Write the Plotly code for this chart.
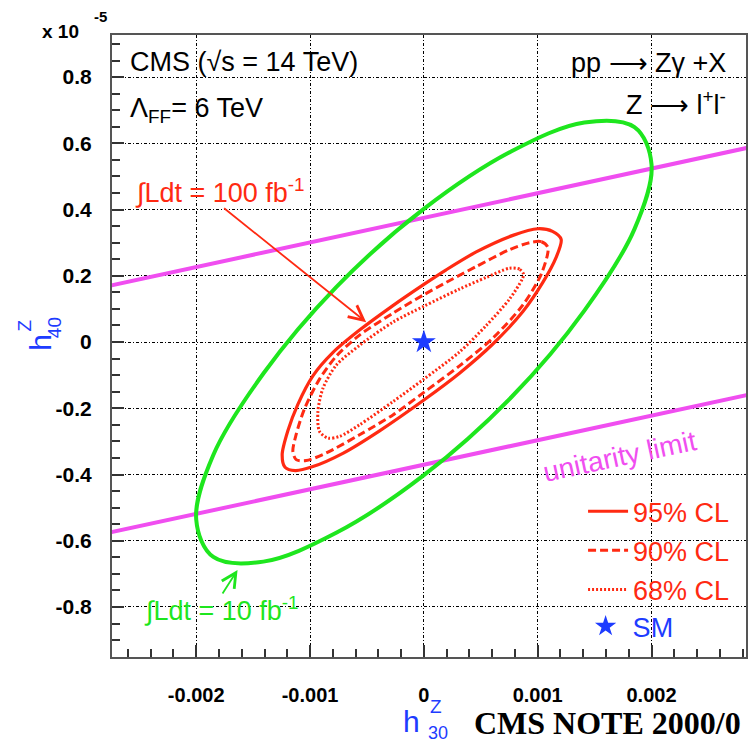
import plotly.graph_objects as go

# ---- data (h30 in raw units, h40 in units of 1e-5) ----
# 10 fb^-1 contour
c10_x = [0.00200, 0.00185, 0.00141, 0.00077, 0.0, -0.00077, -0.00141, -0.00185,
         -0.00200, -0.00185, -0.00141, -0.00077, 0.0, 0.00077, 0.00141, 0.00185, 0.00200]
c10_y = [0.536, 0.341, 0.095, -0.166, -0.402, -0.576, -0.663, -0.649,
         -0.536, -0.341, -0.095, 0.166, 0.402, 0.576, 0.663, 0.649, 0.536]

# 100 fb^-1 contours
c95_x = [0.001206, 0.00113, 0.001001, 0.000782, 0.00046, 0.000196, 0.0, -0.000272,
         -0.000565, -0.0008, -0.000975, -0.001107, -0.001195, -0.001245, -0.00122,
         -0.00113, -0.000975, -0.000712, -0.000389, 0.0, 0.000313, 0.000606, 0.00087,
         0.001045, 0.00116, 0.001206]
c95_y = [0.31, 0.334, 0.342, 0.322, 0.272, 0.218, 0.174, 0.110, 0.036, -0.032, -0.102,
         -0.188, -0.268, -0.34, -0.378, -0.388, -0.376, -0.336, -0.268, -0.175, -0.094,
         -0.006, 0.092, 0.180, 0.254, 0.31]

c90_x = [0.00109, 0.001031, 0.000928, 0.000753, 0.00046, 0.000196, 0.0, -0.000272,
         -0.000565, -0.00077, -0.000917, -0.001048, -0.001122, -0.001151, -0.001122,
         -0.001034, -0.000858, -0.000565, -0.000272, 0.0, 0.000313, 0.000606, 0.00087,
         0.001031, 0.00109]
c90_y = [0.285, 0.303, 0.300, 0.279, 0.228, 0.18, 0.143, 0.087, 0.021, -0.043, -0.112,
         -0.201, -0.279, -0.33, -0.355, -0.358, -0.335, -0.28, -0.22, -0.152, -0.072,
         0.012, 0.112, 0.205, 0.285]

c68_x = [0.000876, 0.00084, 0.000753, 0.000548, 0.000313, 0.0, -0.000272, -0.000565,
         -0.00077, -0.000887, -0.000931, -0.000917, -0.000843, -0.000741, -0.000565,
         -0.000272, 0.0, 0.000313, 0.000548, 0.000753, 0.000864, 0.000876]
c68_y = [0.205, 0.22, 0.223, 0.195, 0.16, 0.108, 0.06, -0.01, -0.07, -0.14, -0.21, -0.27,
         -0.29, -0.285, -0.25, -0.18, -0.112, -0.03, 0.05, 0.13, 0.19, 0.205]

# unitarity limits
unit_x = [-0.003, 0.003]
unit_upper = [0.152, 0.598]
unit_lower = [-0.593, -0.148]

# Standard Model point
sm_x = [0.0]
sm_y = [0.0]

x_ticks = [-0.002, -0.001, 0.0, 0.001, 0.002]
x_ticktext = ["-0.002", "-0.001", "0", "0.001", "0.002"]
y_ticks = [-0.8, -0.6, -0.4, -0.2, 0.0, 0.2, 0.4, 0.6, 0.8]
y_ticktext = ["-0.8", "-0.6", "-0.4", "-0.2", "0", "0.2", "0.4", "0.6", "0.8"]

RED = "#ff2a12"
GREEN = "#1ee61e"
MAGENTA = "#f04ef0"
BLUE = "#1e3cff"
FONT = "Liberation Sans, Arial, sans-serif"

fig = go.Figure()

fig.add_trace(go.Scatter(x=unit_x, y=unit_upper, mode="lines",
                         line=dict(color=MAGENTA, width=4), showlegend=False))
fig.add_trace(go.Scatter(x=unit_x, y=unit_lower, mode="lines",
                         line=dict(color=MAGENTA, width=4), showlegend=False))
fig.add_trace(go.Scatter(x=c10_x, y=c10_y, mode="lines",
                         line=dict(color=GREEN, width=4, shape="spline", smoothing=1),
                         showlegend=False))
fig.add_trace(go.Scatter(x=c95_x, y=c95_y, mode="lines", name="95% CL", legendgroup="a",
                         line=dict(color=RED, width=3.2, shape="spline", smoothing=0.8)))
fig.add_trace(go.Scatter(x=c90_x, y=c90_y, mode="lines", name="90% CL", legendgroup="b",
                         line=dict(color=RED, width=3, dash="8px,4px", shape="spline",
                                   smoothing=0.8)))
fig.add_trace(go.Scatter(x=c68_x, y=c68_y, mode="lines", name="68% CL", legendgroup="c",
                         line=dict(color=RED, width=3, dash="2px,2px", shape="spline",
                                   smoothing=0.8)))
fig.add_trace(go.Scatter(x=sm_x, y=sm_y, mode="markers", name="SM", legend="legend2",
                         marker=dict(symbol="star", size=18, color=BLUE)))

grid = dict(showgrid=True, gridcolor="black", gridwidth=1.3, griddash="3px,2px,1px,2px")

fig.update_xaxes(range=[-0.00274, 0.00283], tickvals=x_ticks, ticktext=x_ticktext,
                 ticks="inside", ticklen=12, tickwidth=1.5, tickcolor="#333",
                 showline=True, linecolor="#555", linewidth=2, mirror=True,
                 zeroline=False, ticklabelstandoff=19,
                 tickfont=dict(family=FONT, size=20, color="black", weight="bold"),
                 minor=dict(dtick=0.0002, tick0=0, ticks="inside", ticklen=8,
                            tickwidth=1.5, tickcolor="#333", showgrid=False),
                 **grid)
fig.update_yaxes(range=[-0.951, 0.927], tickvals=y_ticks, ticktext=y_ticktext,
                 ticks="inside", ticklen=12, tickwidth=1.5, tickcolor="#333",
                 showline=True, linecolor="#555", linewidth=2, mirror=True,
                 zeroline=False, ticklabelstandoff=14,
                 tickfont=dict(family=FONT, size=21, color="black", weight="bold"),
                 minor=dict(dtick=0.05, tick0=0, ticks="inside", ticklen=8,
                            tickwidth=1.5, tickcolor="#333", showgrid=False),
                 **grid)

ann = []


def txt(text, x, y, size, color="black", xanchor="left", yanchor="middle",
        ref="paper", angle=0, family=FONT, weight="normal"):
    ann.append(dict(text=text, x=x, y=y, xref=ref if ref == "paper" else "x",
                    yref=ref if ref == "paper" else "y", showarrow=False,
                    xanchor=xanchor, yanchor=yanchor, textangle=angle,
                    font=dict(family=family, size=size, color=color, weight=weight)))


# header texts
txt("CMS (√s = 14 TeV)", 0.025, 0.957, 27)
txt("Λ<sub>FF</sub>= 6 TeV", 0.025, 0.879, 27)
txt("pp ⟶ Zγ +X", 0.972, 0.955, 27, xanchor="right")
txt("Z ⟶ l<sup>+</sup>l<sup>-</sup>", 0.972, 0.891, 27, xanchor="right")

# exponent of the y axis
txt("x 10", -0.113, 1.006, 19, weight="bold")
txt("-5", -0.031, 1.029, 15, weight="bold")

# axis titles
txt("h", 0.473, -0.104, 30, color=BLUE, xanchor="center")
txt("Z", 0.511, -0.080, 19, color=BLUE, xanchor="center")
txt("30", 0.514, -0.122, 18, color=BLUE, xanchor="center")
txt("h", -0.113, 0.506, 30, color=BLUE, xanchor="center", angle=-90)
txt("Z", -0.138, 0.532, 19, color=BLUE, xanchor="center", angle=-90)
txt("40", -0.0896, 0.529, 19, color=BLUE, xanchor="center", angle=-90)
txt("CMS NOTE 2000/0", 0.568, -0.106, 32, weight="bold",
    family="Liberation Serif, Times New Roman, serif")

# luminosity labels and the unitarity limit label
txt("∫Ldt = 100 fb<sup>-1</sup>", -0.00179, 0.456, 27, color=RED, xanchor="center", ref="data")
txt("∫Ldt = 10 fb<sup>-1</sup>", -0.00178, -0.806, 27, color=GREEN, xanchor="center", ref="data")
txt("unitarity limit", 0.00172, -0.347, 28, color=MAGENTA, xanchor="center", ref="data", angle=-12)

# pointer arrows
for (hx, hy, tx, ty, col) in [(-0.000507, 0.060, -0.001768, 0.4075, RED),
                              (-0.001637, -0.688, -0.001777, -0.764, GREEN)]:
    ann.append(dict(x=hx, y=hy, ax=tx, ay=ty, xref="x", yref="y", axref="x", ayref="y",
                    text="", showarrow=True, arrowhead=5, arrowsize=1.6, arrowwidth=1.8,
                    arrowcolor=col, standoff=0))

fig.update_layout(
    width=751, height=742,
    margin=dict(l=112, r=3, t=35, b=85),
    paper_bgcolor="white", plot_bgcolor="white",
    annotations=ann,
    legend=dict(x=0.743, y=0.273, xanchor="left", yanchor="top",
                font=dict(family=FONT, size=27, color=RED),
                bgcolor="rgba(0,0,0,0)", tracegroupgap=1, itemwidth=40),
    legend2=dict(x=0.736, y=0.088, xanchor="left", yanchor="top",
                 font=dict(family=FONT, size=27, color=BLUE),
                 bgcolor="rgba(0,0,0,0)", itemwidth=44),
)

fig.write_html("out.html")
